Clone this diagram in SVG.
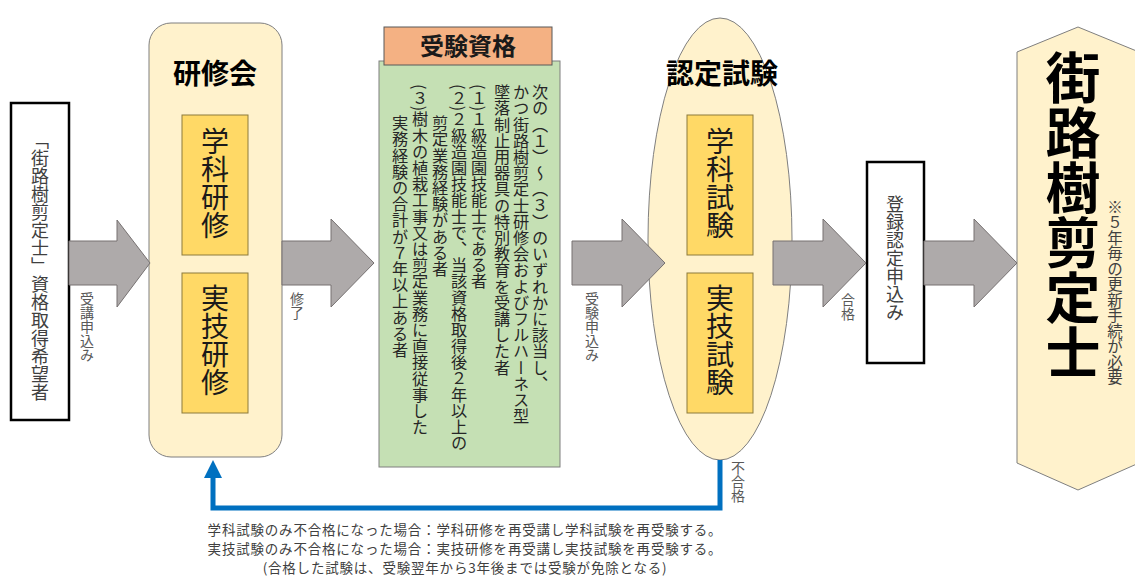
<svg xmlns="http://www.w3.org/2000/svg" width="1135" height="577" viewBox="0 0 1135 577">
<style>
text{font-family:"Noto Sans CJK JP","Noto Sans",sans-serif;}
.v{writing-mode:vertical-rl;text-orientation:mixed;}
.cream{fill:#FFF2CC;stroke:#7F7F7F;stroke-width:1;}
.inner{fill:#FFD966;stroke:#8C7A3C;stroke-width:1;}
.inner-t{font-size:28px;fill:#1a1a1a;}
.title{font-size:28px;font-weight:bold;fill:#000;text-anchor:middle;}
.blk{fill:#fff;stroke:#000;stroke-width:2.5;}
.arr{fill:#AEAAAA;stroke:#767171;stroke-width:1;}
.lbl{font-size:14px;fill:#595959;}
.gt{font-size:16.2px;fill:#262626;}
.note{font-size:13.5px;fill:#404040;text-anchor:middle;letter-spacing:0.8px;}
</style>
<g id="applicant">
<rect class="blk" x="11" y="103" width="58" height="317"/>
<text class="v" x="40" y="131" font-size="18" fill="#404040">「街路樹剪定士」資格取得希望者</text>
</g>
<g id="kenshukai">
<rect class="cream" x="149" y="23" width="133" height="434" rx="22" ry="22"/>
<text class="title" x="215" y="84">研修会</text>
<rect class="inner" x="182" y="115" width="66" height="140"/>
<text class="v inner-t" x="215" y="127">学科研修</text>
<rect class="inner" x="182" y="273" width="66" height="140"/>
<text class="v inner-t" x="215" y="284">実技研修</text>
</g>
<g id="shikaku">
<rect x="379" y="61" width="181" height="406" fill="#C5E0B4" stroke="#7F7F7F" stroke-width="1"/>
<rect x="384" y="27" width="168" height="38" fill="#F4B183" stroke="#595959" stroke-width="1"/>
<text x="468" y="55" font-size="24" font-weight="bold" text-anchor="middle" fill="#1a1a1a">受験資格</text>
<text class="v gt" x="540" y="84">次の（１）～（３）のいずれかに該当し、</text>
<text class="v gt" x="521" y="84">かつ街路樹剪定士研修会およびフルハーネス型</text>
<text class="v gt" x="502" y="84">墜落制止用器具の特別教育を受講した者</text>
<text class="v gt" x="479" y="84">(１)１級造園技能士である者</text>
<text class="v gt" x="459" y="84">(２)２級造園技能士で、当該資格取得後２年以上の</text>
<text class="v gt" x="440" y="115">剪定業務経験がある者</text>
<text class="v gt" x="420" y="84">(３)樹木の植栽工事又は剪定業務に直接従事した</text>
<text class="v gt" x="400" y="115">実務経験の合計が７年以上ある者</text>
</g>
<g id="nintei">
<ellipse class="cream" cx="720" cy="239" rx="72" ry="221"/>
<text class="title" x="722" y="84">認定試験</text>
<rect class="inner" x="687" y="115" width="66" height="140"/>
<text class="v inner-t" x="720" y="127">学科試験</text>
<rect class="inner" x="687" y="273" width="66" height="140"/>
<text class="v inner-t" x="720" y="284">実技試験</text>
</g>
<g id="touroku">
<rect class="blk" x="867" y="162" width="57" height="201"/>
<text class="v" x="895" y="195" font-size="18" fill="#404040">登録認定申込み</text>
</g>
<g id="result">
<polygon points="1078,27 1139,52 1139,463 1078,490 1017,463 1017,52" fill="#FFF2CC" stroke="#7F7F7F" stroke-width="1"/>
<text class="v" x="1073" y="50" font-size="55" font-weight="bold" fill="#000">街路樹剪定士</text>
<text class="v" x="1115" y="199" font-size="15.5" fill="#404040">※５年毎の更新手続が必要</text>
</g>
<g id="connectors">
<polygon class="arr" points="69,241 117,241 117,220 150,263 117,307 117,285 69,285"/>
<polygon class="arr" points="282,241 331,241 331,219 374,263 331,307 331,285 282,285"/>
<polygon class="arr" points="572,241 622,241 622,219 665,263 622,307 622,285 572,285"/>
<polygon class="arr" points="773,241 823,241 823,219 866,263 823,307 823,285 773,285"/>
<polygon class="arr" points="924,241 974,241 974,219 1017,263 974,307 974,285 924,285"/>
<polyline points="720,460 720,508 213,508 213,476" fill="none" stroke="#0070C0" stroke-width="5"/>
<polygon points="213,460 222,478 204,478" fill="#0070C0"/>
<text class="v lbl" x="87" y="292">受講申込み</text>
<text class="v lbl" x="297" y="292">修了</text>
<text class="v lbl" x="592" y="292">受験申込み</text>
<text class="v lbl" x="848" y="293" font-size="15">合格</text>
<text class="v lbl" x="738" y="461" font-size="15">不合格</text>
</g>
<g id="notes">
<text class="note" x="465" y="535">学科試験のみ不合格になった場合：学科研修を再受講し学科試験を再受験する。</text>
<text class="note" x="465" y="554">実技試験のみ不合格になった場合：実技研修を再受講し実技試験を再受験する。</text>
<text class="note" x="465" y="573">(合格した試験は、受験翌年から3年後までは受験が免除となる)</text>
</g>
</svg>
